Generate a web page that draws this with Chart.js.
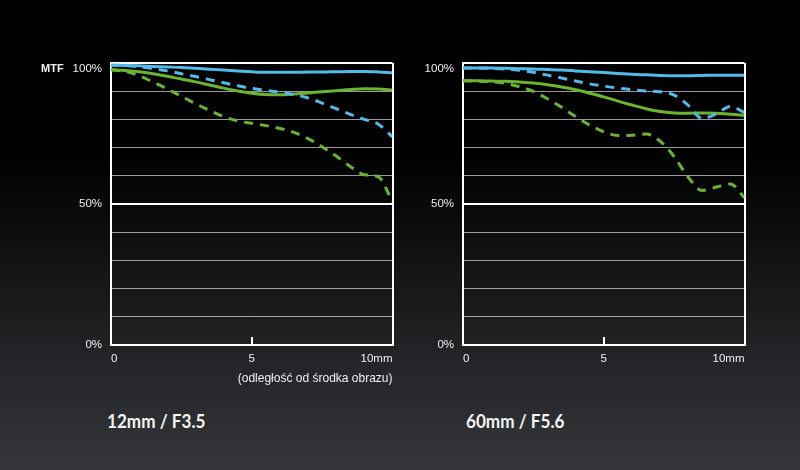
<!DOCTYPE html>
<html>
<head>
<meta charset="utf-8">
<script src="https://cdn.jsdelivr.net/npm/chart.js@4/dist/chart.umd.min.js"></script>
<style>
  html, body { margin: 0; padding: 0; }
  body {
    width: 800px; height: 470px; overflow: hidden; position: relative;
    background: linear-gradient(to bottom, #000 0px, #000 150px, #0c0d0f 230px, #1d1f21 330px, #2c2e31 420px, #34363a 470px);
    font-family: "Liberation Sans", Arial, sans-serif;
  }
  .cv { position: absolute; top: 40px; width: 400px; height: 360px; }
  #c1 { left: 0; }
  #c2 { left: 352px; }
  .mtf { position: absolute; left: 41px; top: 61px; font: bold 11px "Liberation Sans", Arial, sans-serif; color: #f2f2f2; line-height: 14px; }
  .ttl { position: absolute; top: 408px; font: bold 18.5px Lato, "Open Sans", sans-serif; color: #f4f4f4; line-height: 26px; white-space: nowrap; transform-origin: left center; transform: scaleX(0.925); }
</style>
</head>
<body>
<canvas id="c1" class="cv" width="400" height="360"></canvas>
<canvas id="c2" class="cv" width="400" height="360"></canvas>
<div class="mtf">MTF</div>
<div class="ttl" style="left:107px">12mm / F3.5</div>
<div class="ttl" style="left:466px">60mm / F5.6</div>
<script>
// distance from image centre (mm)
const distances = [0,0.5,1,1.5,2,2.5,3,3.5,4,4.5,5,5.5,6,6.5,7,7.5,8,8.5,9,9.5,10];
const xTicks = [0, 5, 10];
const yLabelValues = [0, 50, 100];
const xAxisTitle = '(odległość od środka obrazu)';

// 12mm / F3.5
const wide_blueSolid  = [99.2,99.1,99.0,98.8,98.6,98.4,98.1,97.8,97.5,97.2,96.9,96.7,96.7,96.7,96.8,96.8,96.9,97.0,97.0,96.8,96.5];
const wide_blueDashed = [99.3,99.1,98.6,98.0,97.2,96.2,95.2,94.1,93.0,91.9,91.0,90.3,89.6,88.8,87.6,85.8,83.8,81.8,80.0,78.3,73.8];
const wide_greenSolid = [97.6,97.3,96.9,96.2,95.3,94.3,93.3,92.2,91.1,90.1,89.3,88.8,88.7,89.0,89.4,89.8,90.2,90.6,90.9,90.8,90.4];
const wide_greenDashed= [97.6,97.0,95.5,93.2,90.8,88.2,85.6,83.2,81.0,79.5,78.6,77.8,76.8,75.4,73.2,70.3,67.0,63.3,60.4,59.6,50.8];

// 60mm / F5.6
const tele_blueSolid  = [98.2,98.2,98.2,98.1,98.0,97.9,97.7,97.5,97.2,96.9,96.6,96.3,96.0,95.8,95.6,95.5,95.5,95.6,95.7,95.7,95.7];
const tele_blueDashed = [98.2,98.2,98.1,97.8,97.4,96.7,95.7,94.7,93.6,92.6,91.8,91.1,90.5,90.1,89.8,88.6,85.0,80.3,82.0,84.6,82.4];
const tele_greenSolid = [93.7,93.7,93.6,93.5,93.3,92.9,92.3,91.5,90.5,89.3,88.0,86.5,85.1,83.8,82.8,82.3,82.2,82.3,82.2,81.8,81.5];
const tele_greenDashed= [93.7,93.6,93.4,92.8,91.6,89.9,87.3,84.3,81.0,78.0,75.6,74.3,74.4,74.8,72.3,66.8,59.5,54.8,56.0,57.1,52.2];

const BLUE = '#52b9e9';
const GREEN = '#6ab530';
const DASH = [9, 7];

function pts(values) { return distances.map((d, i) => ({ x: d, y: values[i] })); }
function ds(values, color, dashed) {
  return {
    data: pts(values), borderColor: color, borderWidth: 3,
    borderDash: dashed ? DASH : [], pointRadius: 0,
    cubicInterpolationMode: 'monotone', fill: false
  };
}

function makeChart(id, series, showTitle) {
  return new Chart(document.getElementById(id), {
    type: 'line',
    data: { datasets: [
      ds(series[0], BLUE, false),
      ds(series[1], BLUE, true),
      ds(series[2], GREEN, false),
      ds(series[3], GREEN, true)
    ] },
    options: {
      responsive: false, animation: false, maintainAspectRatio: false,
      layout: { padding: { top: 23, right: 7.5, left: 0, bottom: 0 } },
      plugins: { legend: { display: false }, tooltip: { enabled: false } },
      scales: {
        x: {
          type: 'linear', min: 0, max: 10,
          afterBuildTicks: (s) => { s.ticks = xTicks.map(v => ({ value: v })); },
          afterFit: (s) => { s.height = 55; s.paddingLeft = 0; s.paddingRight = 0; },
          grid: {
            drawOnChartArea: true, drawTicks: true, tickLength: -8,
            color: (c) => c.tick && c.tick.value === 5 ? 'rgba(0,0,0,0)' : '#ffffff',
            lineWidth: 2,
            tickColor: (c) => c.tick && c.tick.value === 5 ? '#ffffff' : 'rgba(0,0,0,0)',
            tickWidth: 2
          },
          border: { display: true, color: '#ffffff', width: 2 },
          ticks: {
            align: 'inner', padding: 15, color: '#f0f0f0', maxRotation: 0,
            font: { family: '"Liberation Sans", Arial, sans-serif', size: 11.5 },
            callback: (v) => v === 10 ? '10mm' : String(v)
          },
          title: {
            display: showTitle, text: xAxisTitle, align: 'end', color: '#f0f0f0',
            font: { family: '"Liberation Sans", Arial, sans-serif', size: 12 },
            padding: { top: 0, bottom: 14 }
          }
        },
        y: {
          type: 'linear', min: 0, max: 100,
          ticks: {
            stepSize: 10, padding: 9, color: '#f0f0f0',
            font: { family: '"Liberation Sans", Arial, sans-serif', size: 11.5, lineHeight: 1 },
            callback: (v) => {
              if (!yLabelValues.includes(v)) return '';
              if (v === 100) return ['', v + '%'];
              return v + '%';
            }
          },
          afterFit: (s) => { s.width = 111; },
          grid: {
            drawTicks: false,
            color: (c) => {
              const v = c.tick ? c.tick.value : null;
              return (v === 50 || v === 100 || v === 0) ? '#ffffff' : 'rgba(255,255,255,0.6)';
            },
            lineWidth: (c) => {
              const v = c.tick ? c.tick.value : null;
              return (v === 50 || v === 100 || v === 0) ? 2 : 1;
            }
          },
          border: { display: true, color: '#ffffff', width: 2 }
        }
      }
    }
  });
}

makeChart('c1', [wide_blueSolid, wide_blueDashed, wide_greenSolid, wide_greenDashed], true);
makeChart('c2', [tele_blueSolid, tele_blueDashed, tele_greenSolid, tele_greenDashed], false);
</script>
</body>
</html>
